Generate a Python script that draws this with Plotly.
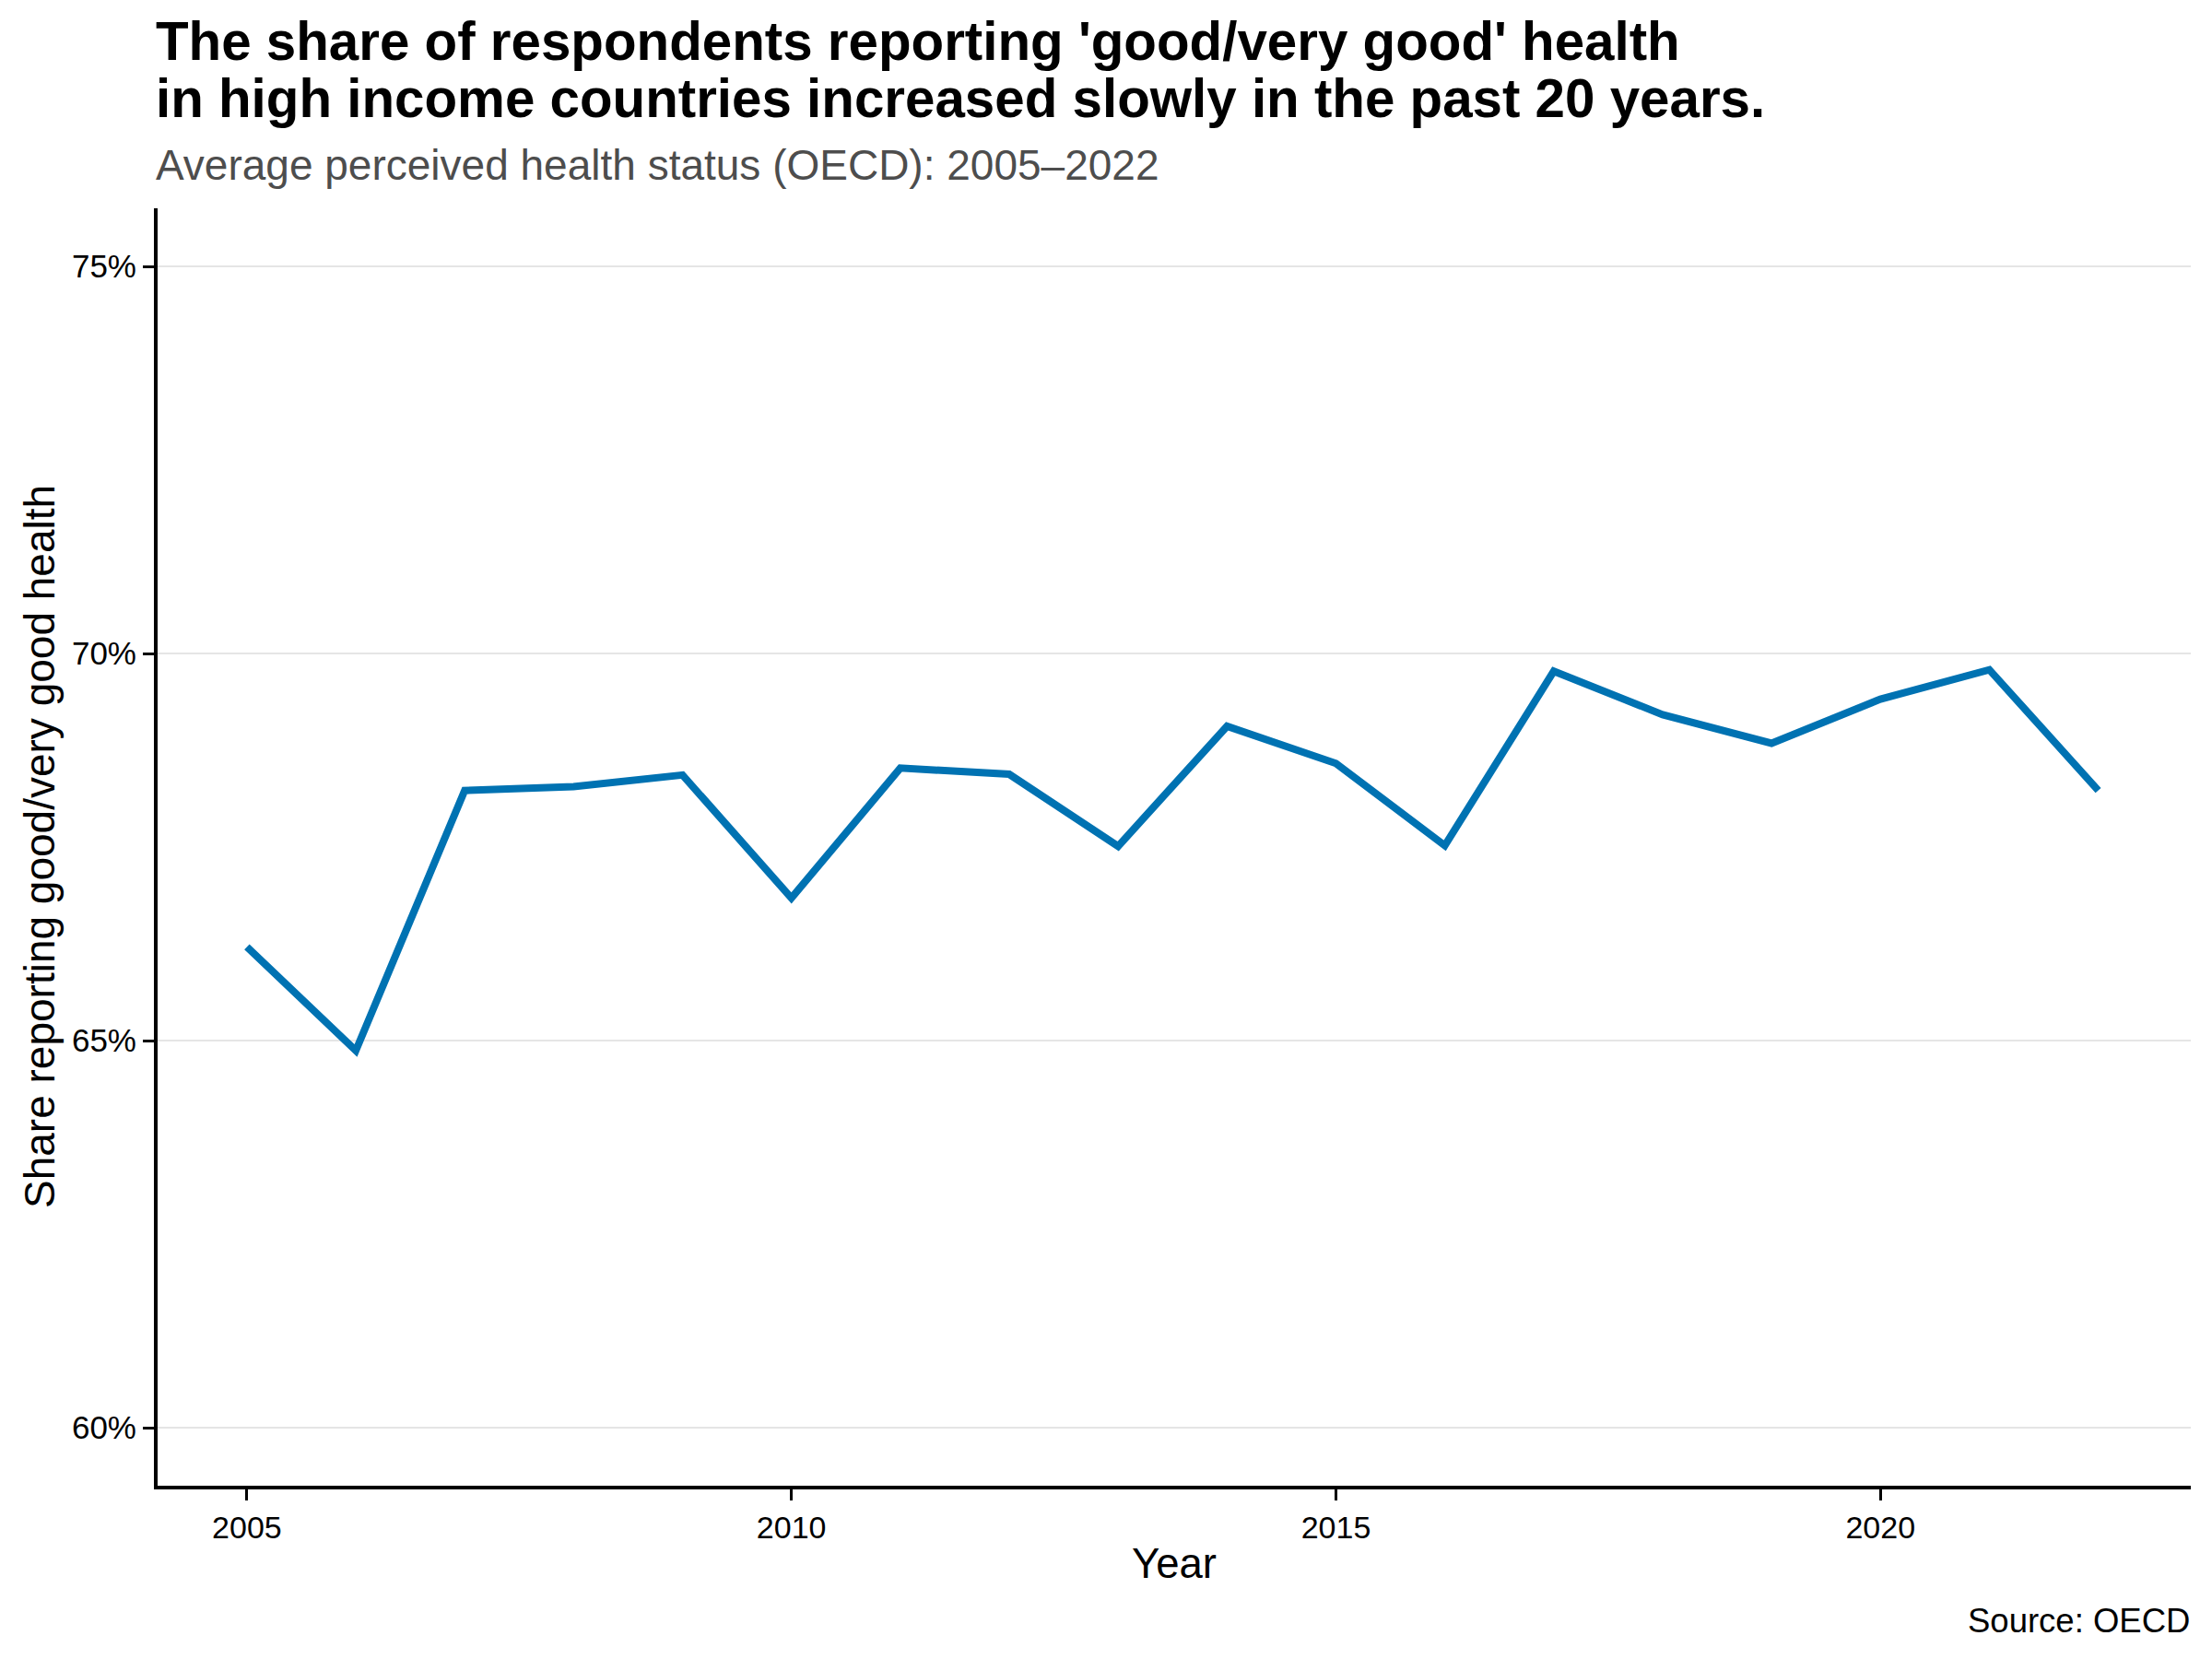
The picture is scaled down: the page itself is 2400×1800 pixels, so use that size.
import plotly.graph_objects as go

# ---- data ----
years = [2005, 2006, 2007, 2008, 2009, 2010, 2011, 2012, 2013,
         2014, 2015, 2016, 2017, 2018, 2019, 2020, 2021, 2022]
share_good = [66.21, 64.87, 68.23, 68.28, 68.43, 66.84, 68.52, 68.44, 67.51,
              69.06, 68.58, 67.52, 69.77, 69.21, 68.84, 69.41, 69.79, 68.23]
x_ticks = [2005, 2010, 2015, 2020]
y_ticks = [60, 65, 70, 75]
y_tick_labels = ["60%", "65%", "70%", "75%"]

title_lines = ["The share of respondents reporting 'good/very good' health",
               "in high income countries increased slowly in the past 20 years."]
subtitle = "Average perceived health status (OECD): 2005\u20132022"
x_title = "Year"
y_title = "Share reporting good/very good health"
caption = "Source: OECD"

# ---- layout geometry (pixels) ----
W, H = 2400, 1800
ML, MR, MT, MB = 171, 23, 226, 188
PW, PH = W - ML - MR, H - MT - MB
FONT = "Liberation Sans, Arial, sans-serif"


def py(ypx):
    return (H - MB - ypx) / PH


def px(xpx):
    return (xpx - ML) / PW


fig = go.Figure()
fig.add_trace(go.Scatter(
    x=years, y=share_good, mode="lines",
    line=dict(color="#0072B2", width=8),
    showlegend=False, hoverinfo="x+y",
))

annotations = [
    dict(text="<b>" + title_lines[0] + "</b>", x=px(168), y=py(44.7), xref="paper", yref="paper",
         xanchor="left", yanchor="middle", showarrow=False,
         font=dict(family=FONT, size=58.3, color="#000000"), borderpad=0),
    dict(text="<b>" + title_lines[1] + "</b>", x=px(168), y=py(106.5), xref="paper", yref="paper",
         xanchor="left", yanchor="middle", showarrow=False,
         font=dict(family=FONT, size=58.3, color="#000000"), borderpad=0),
    dict(text=subtitle, x=px(168), y=py(179), xref="paper", yref="paper",
         xanchor="left", yanchor="middle", showarrow=False,
         font=dict(family=FONT, size=46, color="#4D4D4D"), borderpad=0),
    dict(text=x_title, x=0.5, y=py(1696), xref="paper", yref="paper",
         xanchor="center", yanchor="middle", showarrow=False,
         font=dict(family=FONT, size=45.5, color="#000000"), borderpad=0),
    dict(text=y_title, x=px(43), y=0.5, xref="paper", yref="paper",
         xanchor="center", yanchor="middle", showarrow=False, textangle=-90,
         font=dict(family=FONT, size=46, color="#000000"), borderpad=0),
    dict(text=caption, x=1, y=py(1758), xref="paper", yref="paper",
         xanchor="right", yanchor="middle", showarrow=False,
         font=dict(family=FONT, size=36.5, color="#000000"), borderpad=0),
]

fig.update_layout(
    width=W, height=H,
    margin=dict(l=ML, r=MR, t=MT, b=MB, pad=0),
    paper_bgcolor="white", plot_bgcolor="white",
    font=dict(family=FONT, size=34, color="#000000"),
    annotations=annotations,
    xaxis=dict(
        range=[2004.18, 2022.85], tickmode="array", tickvals=x_ticks,
        ticktext=[str(v) for v in x_ticks],
        showgrid=False, zeroline=False,
        showline=True, linecolor="black", linewidth=4,
        ticks="outside", ticklen=12, tickwidth=2.5, tickcolor="black",
        tickfont=dict(family=FONT, size=34, color="#000000"),
        ticklabelstandoff=0,
    ),
    yaxis=dict(
        range=[59.25, 75.75], tickmode="array", tickvals=y_ticks,
        ticktext=y_tick_labels,
        showgrid=True, gridcolor="#E5E5E5", gridwidth=2,
        zeroline=False,
        showline=True, linecolor="black", linewidth=4,
        ticks="outside", ticklen=12, tickwidth=2.5, tickcolor="black",
        tickfont=dict(family=FONT, size=35, color="#000000"),
        ticklabelstandoff=0,
    ),
)

fig.write_html("out.html", config={"displayModeBar": False},
               post_script="document.body.style.margin='0';document.body.style.overflow='hidden';")
